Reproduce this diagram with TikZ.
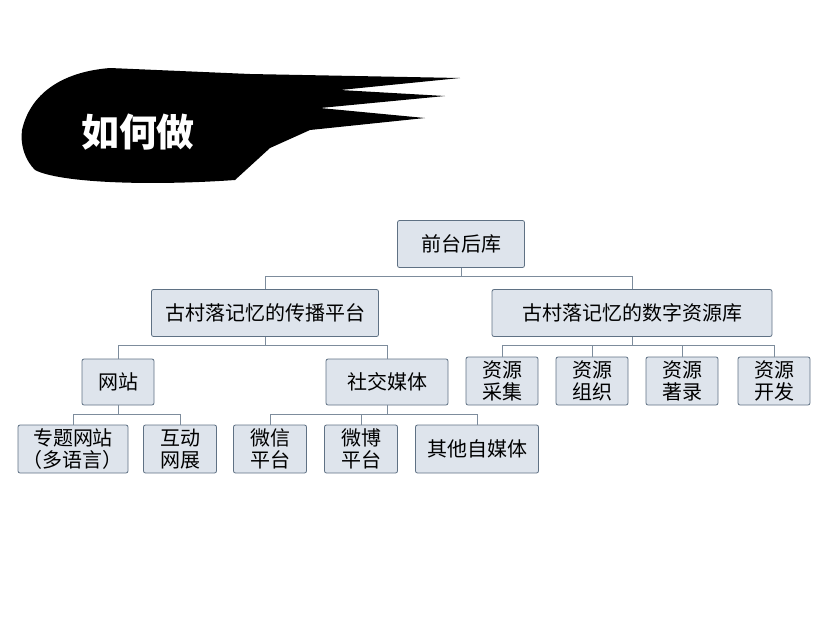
\documentclass[tikz,border=0pt]{standalone}
\usepackage{fontspec}
\setmainfont{Noto Sans CJK SC}
\usepackage{tikz}
\usetikzlibrary{positioning}
\definecolor{boxfill}{HTML}{DEE4EC}
\definecolor{boxline}{HTML}{5F7184}
\definecolor{busline}{HTML}{7D8C9C}

\begin{document}
\begin{tikzpicture}[x=1pt,y=-1pt,
        box/.style={draw=boxline, thick, fill=boxfill, rounded corners=2pt,
            minimum height=47pt, align=center, font=\fontsize{20}{22}\selectfont, inner sep=1pt},
        link/.style={draw=busline, thick}
    ]
    \useasboundingbox (0,0) rectangle (820,622);

    %=== Brush stroke with title ===%
    \fill[black] (22,130) .. controls (30,95) and (60,72) .. (110,68)
        -- (250,74) -- (460,78) -- (340,90) -- (445,96) -- (320,108)
        -- (425,118) -- (310,130) -- (270,148) -- (235,180)
        .. controls (150,186) and (60,183) .. (35,170)
        .. controls (25,160) and (20,145) .. (22,130) -- cycle;
    \node[text=white, font=\fontsize{38}{40}\selectfont\bfseries] (title) at (138,132) {如何做};

    %=== Boxes ===%
    \node[box, minimum width=127pt] (root) at (461,244) {前台后库};
    \node[box, minimum width=227pt] (spread) at (265,313) {古村落记忆的传播平台};
    \node[box, minimum width=280pt] (repo) at (632,313) {古村落记忆的数字资源库};
    \node[box, minimum width=72pt, minimum height=46pt] (web) at (118,382) {网站};
    \node[box, minimum width=122pt, minimum height=46pt] (social) at (387,382) {社交媒体};
    \node[box, minimum width=72pt, minimum height=48pt] (collect) at (502,381) {资源\\采集};
    \node[box, minimum width=72pt, minimum height=48pt] (organize) at (592,381) {资源\\组织};
    \node[box, minimum width=72pt, minimum height=48pt] (catalog) at (682,381) {资源\\著录};
    \node[box, minimum width=72pt, minimum height=48pt] (develop) at (774,381) {资源\\开发};
    \node[box, minimum width=110pt, minimum height=48pt, inner sep=0pt] (topic) at (73,449) {专题网站\\（多语言）};
    \node[box, minimum width=73pt, minimum height=48pt] (expo) at (180,449) {互动\\网展};
    \node[box, minimum width=73pt, minimum height=48pt] (wechat) at (270,449) {微信\\平台};
    \node[box, minimum width=73pt, minimum height=48pt] (weibo) at (361,449) {微博\\平台};
    \node[box, minimum width=123pt, minimum height=48pt] (media) at (477,449) {其他自媒体};

    %=== Connectors ===%
    \foreach \kid in {spread,repo}
        \draw[link] (root.south) -- ++(0,8) -| (\kid.north);
    \foreach \kid in {web,social}
        \draw[link] (spread.south) -- ++(0,8) -| (\kid.north);
    \foreach \kid in {collect,organize,catalog,develop}
        \draw[link] (repo.south) -- ++(0,8) -| (\kid.north);
    \foreach \kid in {topic,expo}
        \draw[link] (web.south) -- ++(0,9) -| (\kid.north);
    \foreach \kid in {wechat,weibo,media}
        \draw[link] (social.south) -- ++(0,9) -| (\kid.north);
\end{tikzpicture}
\end{document}
